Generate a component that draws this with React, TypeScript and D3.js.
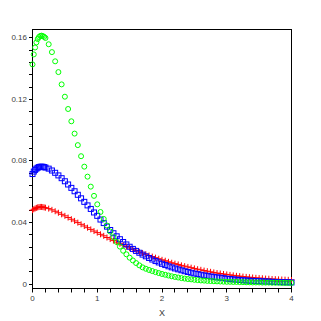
import * as d3 from "d3";
import {useEffect, useRef} from "react";

const xs = [
    0, 0.02, 0.04, 0.06, 0.08, 0.1, 0.12, 0.14, 0.16, 0.18,
    0.2, 0.25, 0.3, 0.35, 0.4, 0.45, 0.5, 0.55, 0.6, 0.65,
    0.7, 0.75, 0.8, 0.85, 0.9, 0.95, 1.0, 1.05, 1.1, 1.15,
    1.2, 1.25, 1.3, 1.35, 1.4, 1.45, 1.5, 1.55, 1.6, 1.65,
    1.7, 1.75, 1.8, 1.85, 1.9, 1.95, 2.0, 2.05, 2.1, 2.15,
    2.2, 2.25, 2.3, 2.35, 2.4, 2.45, 2.5, 2.55, 2.6, 2.65,
    2.7, 2.75, 2.8, 2.85, 2.9, 2.95, 3.0, 3.05, 3.1, 3.15,
    3.2, 3.25, 3.3, 3.35, 3.4, 3.45, 3.5, 3.55, 3.6, 3.65,
    3.7, 3.75, 3.8, 3.85, 3.9, 3.95, 4.0
]

const greenVals = [
    0.1425, 0.1490, 0.1535, 0.1568, 0.1590, 0.1603, 0.1610, 0.1612, 0.1609, 0.1604,
    0.1597, 0.1556, 0.1505, 0.1445, 0.1375, 0.1295, 0.1215, 0.1135, 0.1055, 0.0975,
    0.0900, 0.0828, 0.0760, 0.0695, 0.0630, 0.0570, 0.0515, 0.0465, 0.0420, 0.0377,
    0.0338, 0.0302, 0.0270, 0.0240, 0.0213, 0.0190, 0.0168, 0.0150, 0.0133, 0.0118,
    0.0105, 0.0096, 0.0088, 0.0081, 0.0074, 0.0068, 0.0062, 0.0057, 0.0052, 0.0047,
    0.0043, 0.0039, 0.0035, 0.0032, 0.0029, 0.0027, 0.0024, 0.0022, 0.0020, 0.0019,
    0.0017, 0.0016, 0.0015, 0.0014, 0.0013, 0.0012, 0.0011, 0.0011, 0.0010, 0.0010,
    0.0009, 0.0009, 0.0008, 0.0008, 0.0007, 0.0007, 0.0007, 0.0006, 0.0006, 0.0006,
    0.0005, 0.0005, 0.0005, 0.0004, 0.0004, 0.0004, 0.0004
]

const blueVals = [
    0.0712, 0.0728, 0.0739, 0.0747, 0.0753, 0.0757, 0.0759, 0.0760, 0.0759, 0.0757,
    0.0754, 0.0747, 0.0735, 0.0720, 0.0703, 0.0685, 0.0665, 0.0644, 0.0622, 0.0600,
    0.0577, 0.0554, 0.0531, 0.0508, 0.0485, 0.0462, 0.0440, 0.0416, 0.0393, 0.0370,
    0.0348, 0.0327, 0.0307, 0.0288, 0.0270, 0.0254, 0.0239, 0.0225, 0.0212, 0.0200,
    0.0188, 0.0177, 0.0166, 0.0156, 0.0146, 0.0137, 0.0128, 0.0120, 0.0112, 0.0105,
    0.0098, 0.0092, 0.0086, 0.0080, 0.0075, 0.0070, 0.0065, 0.0061, 0.0057, 0.0053,
    0.0050, 0.0046, 0.0043, 0.0040, 0.0038, 0.0035, 0.0031, 0.0029, 0.0027, 0.0025,
    0.0023, 0.0021, 0.0020, 0.0018, 0.0017, 0.0016, 0.0015, 0.0014, 0.0013, 0.0012,
    0.0011, 0.0010, 0.0009, 0.0009, 0.0008, 0.0008, 0.0007
]

const redVals = [
    0.0477, 0.0483, 0.0488, 0.0492, 0.0495, 0.0497, 0.0498, 0.0498, 0.0497, 0.0495,
    0.0493, 0.0487, 0.0479, 0.0470, 0.0460, 0.0450, 0.0440, 0.0429, 0.0418, 0.0407,
    0.0396, 0.0385, 0.0374, 0.0363, 0.0352, 0.0341, 0.0331, 0.0320, 0.0310, 0.0299,
    0.0289, 0.0279, 0.0269, 0.0259, 0.0250, 0.0240, 0.0231, 0.0222, 0.0214, 0.0206,
    0.0198, 0.0190, 0.0182, 0.0175, 0.0168, 0.0161, 0.0154, 0.0148, 0.0141, 0.0135,
    0.0129, 0.0124, 0.0118, 0.0113, 0.0108, 0.0103, 0.0098, 0.0093, 0.0089, 0.0084,
    0.0080, 0.0076, 0.0072, 0.0068, 0.0065, 0.0062, 0.0059, 0.0056, 0.0053, 0.0050,
    0.0048, 0.0045, 0.0043, 0.0041, 0.0039, 0.0037, 0.0035, 0.0034, 0.0032, 0.0031,
    0.0029, 0.0028, 0.0027, 0.0026, 0.0025, 0.0024, 0.0023
]

const yTickLabels = ["0", "0.04", "0.08", "0.12", "0.16"]
const xTickLabels = ["0", "1", "2", "3", "4"]
const xTitle = "X"

const useD3 = (renderChartFn, dependencies) => {
    const ref = useRef();
    useEffect(() => {
        renderChartFn(d3.select(ref.current));
        return () => {};
    }, dependencies);
    return ref;
}

const W = 321
const H = 321
const left = 32.5
const right = 291.5
const top = 29.5
const bottom = 288.5

const App = () => {
    const ref = useD3((svg) => {
        svg.selectAll("*").remove()

        const x = d3.scaleLinear().domain([0, 4]).range([left, right])
        const y = d3.scaleLinear().domain([-0.00325, 0.1652]).range([bottom, top])

        const font = "'Liberation Sans', Arial, sans-serif"
        const axisColor = "#000"
        const textColor = "#404040"

        // frame
        svg.append("rect")
            .attr("x", left).attr("y", top)
            .attr("width", right - left).attr("height", bottom - top)
            .attr("fill", "none").attr("stroke", axisColor).attr("stroke-width", 1)

        // y ticks: majors every 0.04, minors every 0.008
        const yTicks = d3.range(0, 41).map(i => i * 0.008).filter(v => v <= 0.1652)
        svg.selectAll(".ytick").data(yTicks).enter().append("line")
            .attr("x1", left - 3.5).attr("x2", left)
            .attr("y1", d => Math.round(y(d)) + 0.5).attr("y2", d => Math.round(y(d)) + 0.5)
            .attr("stroke", axisColor)

        svg.selectAll(".ylab").data(yTickLabels).enter().append("text")
            .attr("x", left - 5.5)
            .attr("y", d => y(+d) + 3)
            .attr("text-anchor", "end")
            .attr("font-family", font).attr("font-size", 8)
            .attr("fill", textColor)
            .text(d => d)

        // x ticks every 0.2
        const xTicks = d3.range(0, 21).map(i => i * 0.2)
        svg.selectAll(".xtick").data(xTicks).enter().append("line")
            .attr("x1", d => Math.round(x(d) - 0.5) + 0.5).attr("x2", d => Math.round(x(d) - 0.5) + 0.5)
            .attr("y1", bottom).attr("y2", bottom + 4)
            .attr("stroke", axisColor)

        svg.selectAll(".xlab").data(xTickLabels).enter().append("text")
            .attr("x", d => x(+d))
            .attr("y", bottom + 12)
            .attr("text-anchor", "middle")
            .attr("font-family", font).attr("font-size", 8)
            .attr("fill", textColor)
            .text(d => d)

        svg.append("text")
            .attr("x", (left + right) / 2)
            .attr("y", 316)
            .attr("text-anchor", "middle")
            .attr("font-family", font).attr("font-size", 9)
            .attr("fill", textColor)
            .text(xTitle)

        const plot = svg.append("g")

        // red plus
        plot.selectAll(".red").data(xs).enter().append("path")
            .attr("d", (d, i) => {
                const cx = x(d), cy = y(redVals[i])
                return `M${cx - 3},${cy}H${cx + 3}M${cx},${cy - 3}V${cy + 3}`
            })
            .attr("stroke", "#ff0000").attr("stroke-width", 1).attr("fill", "none")

        // blue squares
        plot.selectAll(".blue").data(xs).enter().append("rect")
            .attr("x", d => x(d) - 2.5)
            .attr("y", (d, i) => y(blueVals[i]) - 2.5)
            .attr("width", 5).attr("height", 5)
            .attr("stroke", "#0000ff").attr("stroke-width", 1).attr("fill", "none")

        // green circles
        plot.selectAll(".green").data(xs).enter().append("circle")
            .attr("cx", d => x(d))
            .attr("cy", (d, i) => y(greenVals[i]))
            .attr("r", 2.5)
            .attr("stroke", "#00ff00").attr("stroke-width", 1).attr("fill", "none")
    }, [])

    return (
        <svg
            ref={ref}
            width={W}
            height={H}
            style={{position: "absolute", left: 0, top: 0, background: "#fff"}}>
        </svg>
    )
}

export default App;
